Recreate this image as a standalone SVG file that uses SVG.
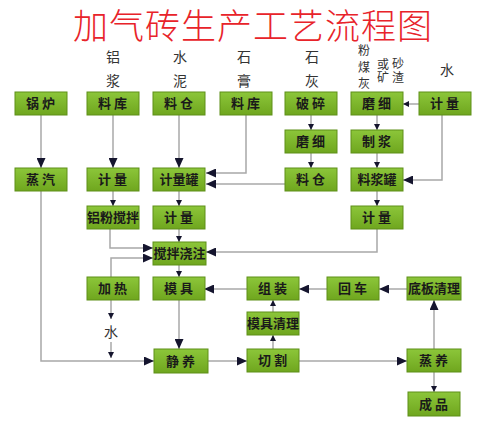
<svg xmlns="http://www.w3.org/2000/svg" width="495" height="426" viewBox="0 0 495 426">
<defs>
<linearGradient id="g" x1="0" y1="0" x2="0" y2="1">
<stop offset="0" stop-color="#8cc63a"/>
<stop offset="1" stop-color="#6fa61e"/>
</linearGradient>
<marker id="big" markerUnits="userSpaceOnUse" markerWidth="11" markerHeight="9" refX="10" refY="4.5" orient="auto">
<path d="M0,0 L10,4.5 L0,9 z" fill="#15152e"/>
</marker>
<marker id="sm" markerUnits="userSpaceOnUse" markerWidth="7" markerHeight="6" refX="6" refY="3" orient="auto">
<path d="M0,0 L6,3 L0,6 z" fill="#15152e"/>
</marker>
<style>
.b{fill:url(#g);stroke:#5e8f18;stroke-width:1}
.t{font-family:"Noto Sans CJK SC","Noto Sans",sans-serif;font-size:13px;font-weight:bold;fill:#1a1a1a;text-anchor:middle}
.t2{letter-spacing:3px}
.l{font-family:"Noto Sans CJK SC","Noto Sans",sans-serif;font-size:14px;fill:#333;text-anchor:middle}
.ls{font-size:12px}
.c{fill:none;stroke:#a8a8a8;stroke-width:1.5}
.cb{marker-end:url(#big)}
.cs{marker-end:url(#sm)}
</style>
</defs>
<rect width="495" height="426" fill="#fff"/>
<text x="253" y="39" font-family="Noto Sans CJK SC,sans-serif" font-size="35" font-weight="300" letter-spacing="1" fill="#e8232a" text-anchor="middle">加气砖生产工艺流程图</text>

<g id="labels">
<text class="l" x="113" y="62">铝</text>
<text class="l" x="113" y="86">浆</text>
<text class="l" x="180" y="62">水</text>
<text class="l" x="180" y="86">泥</text>
<text class="l" x="244" y="62">石</text>
<text class="l" x="244" y="86">膏</text>
<text class="l" x="312" y="62">石</text>
<text class="l" x="312" y="86">灰</text>
<text class="l ls" x="364" y="55">粉</text>
<text class="l ls" x="364" y="72">煤</text>
<text class="l ls" x="364" y="88">灰</text>
<text class="l ls" x="383" y="69">或</text>
<text class="l ls" x="383" y="82">矿</text>
<text class="l ls" x="398" y="68">砂</text>
<text class="l ls" x="398" y="82">渣</text>
<text class="l" x="447" y="75">水</text>
</g>

<g id="connectors">
<path class="c cb" d="M41,115 V168"/>
<path class="c cb" d="M113,115 V168"/>
<path class="c cb" d="M179,115 V168"/>
<path class="c cb" d="M246,115 V173 H206"/>
<path class="c cb" d="M285,184 H206"/>
<path class="c cs" d="M311,115 V130"/>
<path class="c cs" d="M311,153 V168"/>
<path class="c cs" d="M419,104 H403"/>
<path class="c cs" d="M377,115 V130"/>
<path class="c cs" d="M377,153 V168"/>
<path class="c cb" d="M442,115 V180 H403"/>
<path class="c cs" d="M377,191 V206"/>
<path class="c cb" d="M377,229 V252 H206"/>
<path class="c cs" d="M113,191 V206"/>
<path class="c cs" d="M179,191 V206"/>
<path class="c cs" d="M179,229 V242"/>
<path class="c cb" d="M110,229 V248 H153"/>
<path class="c cb" d="M111,277 V258 H153"/>
<path class="c cs" d="M179,265 V277"/>
<path class="c cb" d="M179,300 V349"/>
<path class="c cb" d="M41,191 V361 H154"/>
<path class="c cs" d="M111,300 V319"/>
<path class="c cs" d="M111,342 V358"/>
<path class="c cb" d="M206,361 H247"/>
<path class="c cs" d="M273,349 V335"/>
<path class="c cs" d="M273,312 V300"/>
<path class="c cb" d="M299,361 H407"/>
<path class="c cb" d="M434,349 V300"/>
<path class="c cs" d="M434,372 V392"/>
<path class="c cb" d="M407,289 H379"/>
<path class="c cb" d="M327,289 H299"/>
<path class="c cb" d="M247,289 H204"/>
<text class="l" x="111" y="337">水</text>
</g>

<g id="n-guolu"><rect class="b" x="15" y="92" width="52" height="23"/><text class="t t2" x="42" y="108">锅炉</text></g>
<g id="n-liaoku1"><rect class="b" x="87" y="92" width="52" height="23"/><text class="t t2" x="114" y="108">料库</text></g>
<g id="n-liaocang1"><rect class="b" x="153" y="92" width="52" height="23"/><text class="t t2" x="180" y="108">料仓</text></g>
<g id="n-liaoku2"><rect class="b" x="220" y="92" width="52" height="23"/><text class="t t2" x="247" y="108">料库</text></g>
<g id="n-posui"><rect class="b" x="285" y="92" width="52" height="23"/><text class="t t2" x="312" y="108">破碎</text></g>
<g id="n-moxi1"><rect class="b" x="351" y="92" width="52" height="23"/><text class="t t2" x="378" y="108">磨细</text></g>
<g id="n-jiliang-w"><rect class="b" x="419" y="92" width="52" height="23"/><text class="t t2" x="446" y="108">计量</text></g>

<g id="n-moxi2"><rect class="b" x="285" y="130" width="52" height="23"/><text class="t t2" x="312" y="146">磨细</text></g>
<g id="n-zhijiang"><rect class="b" x="351" y="130" width="52" height="23"/><text class="t t2" x="378" y="146">制浆</text></g>

<g id="n-zhengqi"><rect class="b" x="15" y="168" width="52" height="23"/><text class="t t2" x="42" y="184">蒸汽</text></g>
<g id="n-jiliang1"><rect class="b" x="87" y="168" width="52" height="23"/><text class="t t2" x="114" y="184">计量</text></g>
<g id="n-jiliangguan"><rect class="b" x="153" y="168" width="52" height="23"/><text class="t" x="179" y="184">计量罐</text></g>
<g id="n-liaocang2"><rect class="b" x="285" y="168" width="52" height="23"/><text class="t t2" x="312" y="184">料仓</text></g>
<g id="n-liaojiangguan"><rect class="b" x="351" y="168" width="52" height="23"/><text class="t" x="377" y="184">料浆罐</text></g>

<g id="n-lvfen"><rect class="b" x="87" y="206" width="52" height="23"/><text class="t" x="113" y="222">铝粉搅拌</text></g>
<g id="n-jiliang2"><rect class="b" x="153" y="206" width="52" height="23"/><text class="t t2" x="180" y="222">计量</text></g>
<g id="n-jiliang3"><rect class="b" x="351" y="206" width="52" height="23"/><text class="t t2" x="378" y="222">计量</text></g>

<g id="n-jiaoban"><rect class="b" x="153" y="242" width="53" height="23"/><text class="t" x="179.5" y="258">搅拌浇注</text></g>

<g id="n-jiare"><rect class="b" x="87" y="277" width="52" height="23"/><text class="t t2" x="114" y="293">加热</text></g>
<g id="n-moju"><rect class="b" x="153" y="277" width="52" height="23"/><text class="t t2" x="180" y="293">模具</text></g>
<g id="n-zuzhuang"><rect class="b" x="247" y="277" width="52" height="23"/><text class="t t2" x="274" y="293">组装</text></g>
<g id="n-huiche"><rect class="b" x="327" y="277" width="52" height="23"/><text class="t t2" x="354" y="293">回车</text></g>
<g id="n-diban"><rect class="b" x="407" y="277" width="54" height="23"/><text class="t" x="434" y="293">底板清理</text></g>

<g id="n-mujuqingli"><rect class="b" x="247" y="312" width="52" height="23"/><text class="t" x="273" y="328">模具清理</text></g>

<g id="n-jingyang"><rect class="b" x="154" y="349" width="54" height="24"/><text class="t t2" x="182" y="366">静养</text></g>
<g id="n-qiege"><rect class="b" x="247" y="349" width="52" height="23"/><text class="t t2" x="274" y="365">切割</text></g>
<g id="n-zhengyang"><rect class="b" x="407" y="349" width="54" height="23"/><text class="t t2" x="435" y="365">蒸养</text></g>

<g id="n-chengpin"><rect class="b" x="408" y="392" width="52" height="24"/><text class="t t2" x="435" y="409">成品</text></g>
</svg>
